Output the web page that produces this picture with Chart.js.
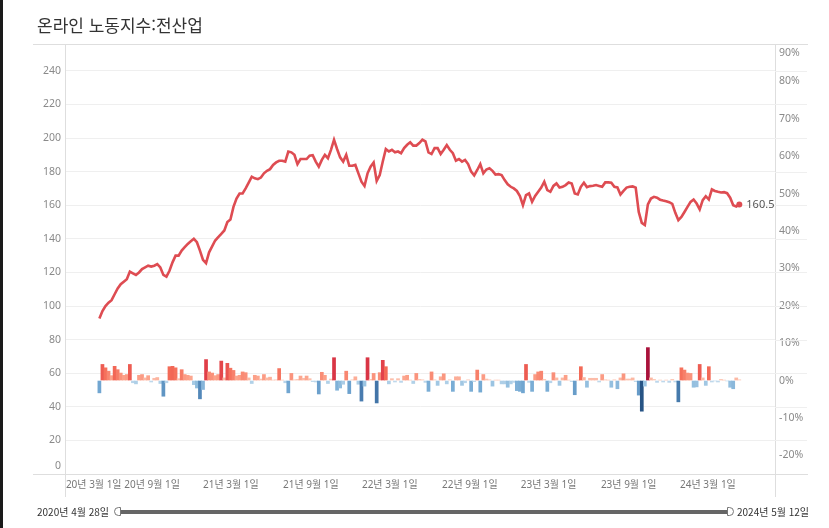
<!DOCTYPE html>
<html lang="ko">
<head>
<meta charset="UTF-8">
<title>온라인 노동지수:전산업</title>
<script src="https://cdn.jsdelivr.net/npm/chart.js@4"></script>
<style>
  html, body { margin: 0; padding: 0; background: #fff; }
  #wrap { position: relative; width: 829px; height: 528px; overflow: hidden;
          font-family: 'Noto Sans', 'Noto Sans CJK KR', sans-serif; }
  #chartBox { position: absolute; left: 0; top: 0; width: 829px; height: 528px; }
  .line { position: absolute; background: #dedede; }
  #frameL { position: absolute; left: 0; top: 0; width: 3px; height: 528px; background: #1a1a1a; }
  #title { position: absolute; left: 37px; top: 15px; font-size: 17px; line-height: 20px;
           color: #333; font-family: 'Noto Sans CJK KR', sans-serif; }
  .range { position: absolute; top: 505px; font-size: 10px; line-height: 14px; color: #333;
           font-family: 'Noto Sans CJK KR', sans-serif; }
  #track { position: absolute; left: 120px; top: 510px; width: 608px; height: 4px; background: #666; }
  .knob { position: absolute; top: 507px; width: 7px; height: 9px; background: #fff;
          border: 1px solid #777; box-sizing: border-box; }
</style>
</head>
<body>
<div id="wrap">
  <div id="chartBox"><canvas id="chart" width="829" height="528"></canvas></div>
  <div id="frameL"></div>
  <div id="title">온라인 노동지수:전산업</div>
  <div class="line" style="left:33px; top:44px; width:775px; height:1px;"></div>
  <div class="line" style="left:33px; top:474px; width:775px; height:1px;"></div>
  <div class="line" style="left:65px; top:474px; width:1px; height:23px;"></div>
  <div class="line" style="left:775px; top:474px; width:1px; height:23px;"></div>
  <div class="range" style="left:37px;">2020년 4월 28일</div>
  <div id="track"></div>
  <div class="knob" style="left:114px; border-radius:5px 0 0 5px;"></div>
  <div class="knob" style="left:727px; border-radius:0 5px 5px 0;"></div>
  <div class="range" style="left:737px;">2024년 5월 12일</div>
</div>
<script>
// weekly observations, first week starting 2020-05-03
const startDate = '2020-05-03';

// online labour index (left axis)
const weeklyIndex = [
  92.6, 97, 100, 102, 103.5, 107, 110.5, 113, 114.5, 116,
  120.5, 119.5, 118.5, 120, 122, 123, 124, 123.5, 124, 125,
  123, 118.5, 117.5, 121, 126, 130, 130, 133, 135, 137,
  138.5, 140, 138, 133, 127.5, 125.5, 132, 135.5, 139, 141,
  143, 145, 150, 151.5, 159, 164, 167, 167, 170, 173.5,
  177, 176, 175.5, 176.5, 179, 180.5, 181.5, 184, 185.5, 186.5,
  186.5, 186, 192, 191.5, 190, 184.5, 187.5, 187.5, 187.5, 189.5,
  189.8, 186, 183, 187, 190, 188, 193, 199, 193.5, 188.5,
  186, 190, 183.5, 183.5, 184, 179, 174, 171.5, 179, 183,
  185.5, 174.5, 178, 186, 193.5, 192, 193, 191.5, 192, 191,
  194, 196, 197.5, 195.5, 195.5, 197, 199, 198, 191.5, 190.5,
  194, 194, 190.5, 193, 195.8, 193, 191, 186.5, 187.5, 186,
  187, 184.5, 180, 177.8, 181, 184.5, 179, 181.3, 182, 180.5,
  178.3, 178.5, 178, 175, 172.5, 171, 170, 168.5, 165.5, 160,
  166, 167, 162, 165.5, 168, 170.5, 174, 169, 168, 171.5,
  173, 170.5, 171, 172, 173.6, 173, 167, 166.4, 171, 173.4,
  170.8, 171.4, 171.6, 172, 171.5, 171, 173.6, 173.6, 173.4, 171,
  170.6, 166.4, 168.6, 170.5, 171, 171.2, 170.5, 156, 149.5, 148.2,
  160.5, 164, 165, 164.5, 163.3, 162.8, 162.4, 161.8, 160.8, 155.5,
  151.1, 153, 156, 159, 162, 163.4, 161, 157.5, 163, 165.4,
  163.4, 169.4, 168.5, 168, 167.6, 167.8, 167.2, 164.5, 160, 159.3,
  160.5
];

// weekly change in % (right axis)
const weeklyChange = [
  -3.3, 4.3, 3.4, 2.5, 1.3, 3.8, 2.9, 2.0, 1.4, 1.6,
  4.3, -0.6, -0.9, 1.4, 1.6, 0.7, 1.3, -0.4, 0.6, 0.8,
  -0.8, -4.2, -0.6, 3.7, 3.8, 3.4, 0.5, 2.9, 1.6, 1.4,
  1.2, -1.1, -2.0, -4.9, -2.4, 5.6, 2.3, 2.0, 1.3, 1.6,
  5.2, 0.7, 4.6, 3.3, 2.7, 1.2, 1.4, 2.3, 2.1, 0.7,
  -0.8, 1.4, 1.2, 0.4, 1.6, 0.7, 0.9, 0.1, 0.2, 3.2,
  0.1, -0.6, -3.3, 1.9, 0.2, 0.3, 1.2, 0.6, 1.2, 0.5,
  -0.3, -0.4, -3.6, 2.2, 1.4, -0.8, 0.4, 6.1, -2.6, -2.0,
  -1.0, 2.5, -3.5, 0.2, 1.0, -1.0, -5.5, -1.5, 6.1, 0.3,
  1.9, -6.0, 2.1, 5.4, 3.7, -0.9, 0.5, -0.4, 0.5, -0.5,
  1.2, 1.4, 0.1, -0.8, 1.9, 0.3, 0.2, -0.5, -2.9, 2.3,
  0.2, -1.3, 1.0, 1.8, -0.9, 0.2, -2.9, 1.0, 1.0, -1.3,
  -0.6, 0.2, -2.9, -0.3, 2.8, -3.1, 1.6, 0.4, 0.2, -1.5,
  0.1, 0.1, -0.9, -0.9, -1.8, -0.9, -0.5, -2.7, -2.9, -3.3,
  4.3, -0.5, -2.9, 1.6, 2.3, 2.5, 0.3, -2.9, -0.6, 2.1,
  0.7, -1.3, 0.7, 1.4, 0.1, -0.3, -3.8, 0.1, 3.7, 0.8,
  -1.8, 0.6, 0.6, 0.6, -0.4, 1.6, 0.2, 0.1, -1.8, 0.2,
  -2.2, 0.7, 1.8, 0.4, 0.4, 0.7, -0.3, -3.9, -8.2, -1.5,
  8.8, 0.7, 0.3, -0.5, 0.1, -0.4, 0.1, -0.5, 0.3, -0.4,
  -5.7, 3.4, 2.8, 2.0, 1.9, -1.8, -1.7, 4.3, 0.7, -1.3,
  3.7, -0.4, -0.1, -0.4, 0.3, 0.1, -0.1, -1.8, -2.2, 0.7,
  0.2
];

const xTickDates  = ['2020-03-01', '2020-09-01', '2021-03-01', '2021-09-01', '2022-03-01',
                     '2022-09-01', '2023-03-01', '2023-09-01', '2024-03-01'];
const xTickLabels = ['20년 3월 1일', '20년 9월 1일', '21년 3월 1일', '21년 9월 1일', '22년 3월 1일',
                     '22년 9월 1일', '23년 3월 1일', '23년 9월 1일', '24년 3월 1일'];
const leftTicks  = [0, 20, 40, 60, 80, 100, 120, 140, 160, 180, 200, 220, 240];
const rightTicks = [-20, -10, 0, 10, 20, 30, 40, 50, 60, 70, 80, 90];

const DAY = 86400000;
function dayOf(s) {
  const [y, m, d] = s.split('-').map(Number);
  const [y0, m0, d0] = startDate.split('-').map(Number);
  return (Date.UTC(y, m - 1, d) - Date.UTC(y0, m0 - 1, d0)) / DAY;
}
const weekDays = weeklyIndex.map((_, i) => i * 7);
const xTickDays = xTickDates.map(dayOf);

// axis extent (days from start), matches the padded axis of the original
const xMin = -79, xMax = 1552;

const FONT = "'Noto Sans', 'Noto Sans CJK KR', sans-serif";

function mix(a, b, t) {
  const pa = [1, 3, 5].map(k => parseInt(a.substr(k, 2), 16));
  const pb = [1, 3, 5].map(k => parseInt(b.substr(k, 2), 16));
  return 'rgb(' + pa.map((v, k) => Math.round(v + (pb[k] - v) * t)).join(',') + ')';
}
function ramp(stops, t) {
  for (let k = 1; k < stops.length; k++) {
    if (t <= stops[k][0]) {
      const [t0, c0] = stops[k - 1], [t1, c1] = stops[k];
      return mix(c0, c1, (t - t0) / (t1 - t0));
    }
  }
  return stops[stops.length - 1][1];
}
const reds  = [[0, '#fcd0c0'], [0.15, '#fca189'], [0.4, '#f46c58'], [0.65, '#de3846'], [1, '#a50f3a']];
const blues = [[0, '#cce0ef'], [0.15, '#9fc6e3'], [0.35, '#74a9d3'], [0.6, '#4a7eb1'], [1, '#1d4878']];
function barColor(v) {
  const t = Math.min(Math.abs(v) / 9, 1);
  return v >= 0 ? ramp(reds, t) : ramp(blues, t);
}

// last value label + grid lines running under the right axis
const extras = {
  id: 'extras',
  beforeDatasetsDraw(chart) {
    const { ctx, chartArea } = chart;
    const ys = chart.scales.y;
    ctx.save();
    ctx.strokeStyle = '#efefef';
    ctx.lineWidth = 1;
    leftTicks.forEach(v => {
      if (v === 0) return;
      const py = Math.round(ys.getPixelForValue(v)) + 0.5;
      ctx.beginPath();
      ctx.moveTo(chartArea.right, py);
      ctx.lineTo(807, py);
      ctx.stroke();
    });
    ctx.restore();
  },
  afterDatasetsDraw(chart) {
    const meta = chart.getDatasetMeta(0);
    const last = meta.data[meta.data.length - 1];
    const ctx = chart.ctx;
    ctx.save();
    ctx.font = '11px ' + FONT;
    ctx.fillStyle = '#555';
    ctx.textBaseline = 'middle';
    ctx.fillText(weeklyIndex[weeklyIndex.length - 1].toFixed(1), last.x + 7, last.y);
    ctx.restore();
  }
};

new Chart(document.getElementById('chart'), {
  type: 'bar',
  data: {
    datasets: [{
      type: 'line',
      label: '온라인 노동지수',
      data: weeklyIndex.map((v, i) => ({ x: weekDays[i], y: v })),
      yAxisID: 'y',
      borderColor: '#de4c52',
      borderWidth: 2.6,
      pointRadius: c => (c.dataIndex === weeklyIndex.length - 1 ? 3 : 0),
      pointBackgroundColor: '#de4c52',
      pointBorderWidth: 0,
      tension: 0,
      order: 0
    }, {
      type: 'bar',
      label: '주간 변화율',
      data: weeklyChange.map((v, i) => ({ x: weekDays[i], y: v })),
      yAxisID: 'y1',
      backgroundColor: weeklyChange.map(barColor),
      borderWidth: 0,
      barPercentage: 1,
      categoryPercentage: 1,
      order: 1
    }]
  },
  options: {
    responsive: false,
    animation: false,
    layout: { padding: { top: 44, left: 0, right: 0, bottom: 0 } },
    plugins: { legend: { display: false }, tooltip: { enabled: false } },
    scales: {
      x: {
        type: 'linear',
        min: xMin,
        max: xMax,
        offset: false,
        grid: { display: false, drawTicks: false },
        border: { display: true, color: '#dedede' },
        afterBuildTicks: s => {
          // keep the first label inside the axis like the original does
          s.ticks = xTickDays.map(d => ({ value: Math.max(d, xMin + 66) }));
        },
        afterFit: s => { s.height = 54; },
        ticks: {
          autoSkip: false,
          maxRotation: 0,
          padding: 5,
          color: '#777',
          font: { family: FONT, size: 10 },
          callback: (v, i) => xTickLabels[i]
        }
      },
      y: {
        position: 'left',
        min: 0,
        max: 256,
        afterBuildTicks: s => {
          s.ticks = leftTicks.map(v => ({ value: v === 0 ? 4.8 : v, label0: v === 0 }));
        },
        afterFit: s => { s.width = 65; },
        grid: {
          color: c => (c.tick && c.tick.label0 ? 'rgba(0,0,0,0)' : '#efefef'),
          drawTicks: false
        },
        border: { display: true, color: '#dedede' },
        ticks: {
          padding: 4,
          color: '#8a8a8a',
          font: { family: FONT, size: 10.5 },
          callback: (v, i) => String(leftTicks[i])
        }
      },
      y1: {
        position: 'right',
        min: -25,
        max: 90,
        afterBuildTicks: s => {
          s.ticks = rightTicks.map(v => ({ value: v === 90 ? 87.6 : v }));
        },
        afterFit: s => { s.width = 54; },
        grid: { drawOnChartArea: false, drawTicks: false },
        border: { display: true, color: '#dedede' },
        ticks: {
          padding: 4,
          color: '#8a8a8a',
          font: { family: FONT, size: 10.5 },
          callback: (v, i) => rightTicks[i] + '%'
        }
      }
    }
  },
  plugins: [extras]
});
</script>
</body>
</html>
